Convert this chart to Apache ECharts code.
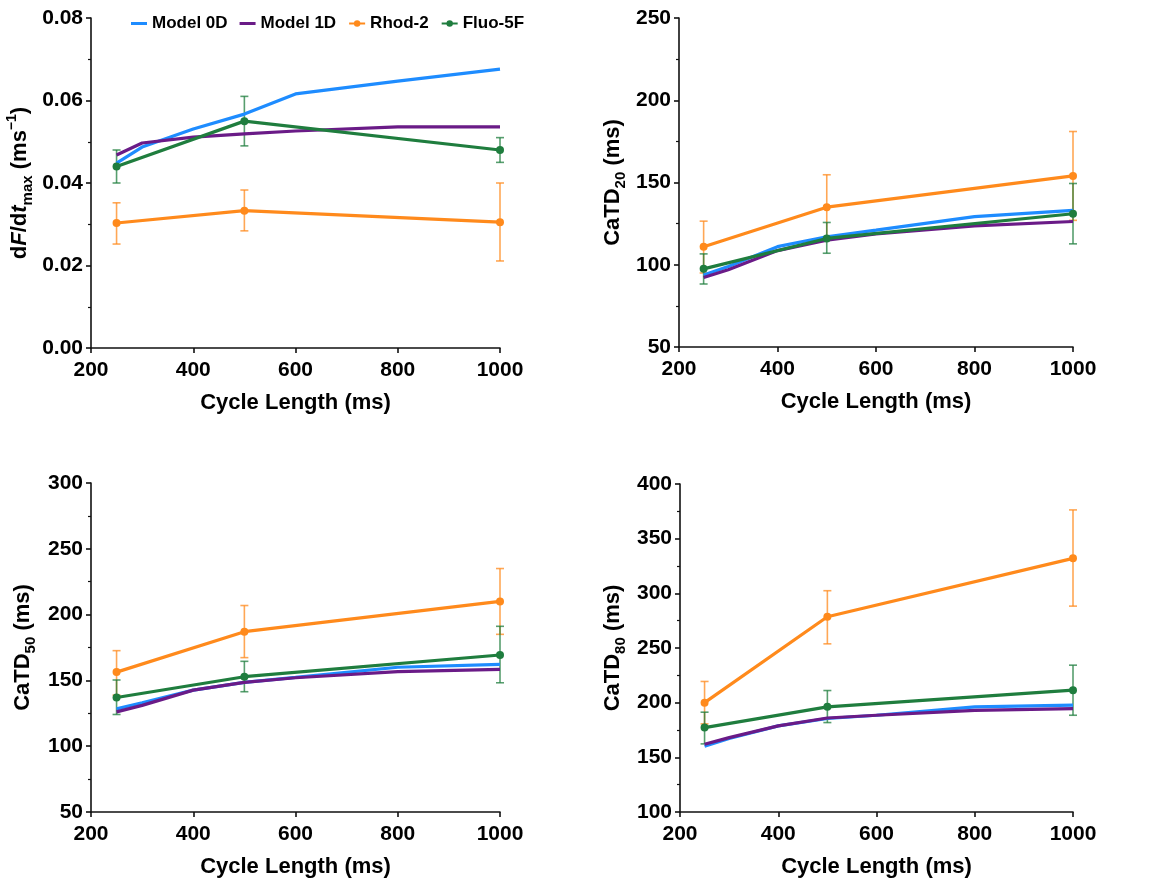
<!DOCTYPE html>
<html>
<head>
<meta charset="utf-8">
<script src="https://cdn.jsdelivr.net/npm/echarts@6/dist/echarts.min.js"></script>
<style>
  html, body { margin: 0; padding: 0; background: #fff; }
  #main { width: 1162px; height: 880px; }
</style>
</head>
<body>
<div id="main"></div>
<script>
// cycle lengths (ms)
const cycleModel = [250, 300, 400, 500, 600, 800, 1000];
const cycleExp = [250, 500, 1000];

// dF/dt max
const dfdt0D = [0.0448, 0.0487, 0.0531, 0.0567, 0.0616, 0.0647, 0.0676];
const dfdt1D = [0.0468, 0.0497, 0.0511, 0.0519, 0.0526, 0.0536, 0.0536];
const dfdtRhod = [0.0303, 0.0333, 0.0305];
const dfdtRhodLo = [0.0252, 0.0284, 0.0211];
const dfdtRhodHi = [0.0352, 0.0383, 0.0400];
const dfdtFluo = [0.0440, 0.0550, 0.0480];
const dfdtFluoLo = [0.0400, 0.0490, 0.0450];
const dfdtFluoHi = [0.0480, 0.0610, 0.0510];

// CaTD20
const td20_0D = [93.8, 99, 111, 117, 121, 129.3, 133];
const td20_1D = [92.2, 97, 108.6, 115, 118.8, 123.6, 126.3];
const td20Rhod = [111, 135, 154];
const td20RhodLo = [95, 115.5, 127];
const td20RhodHi = [126.5, 154.7, 181];
const td20Fluo = [97.5, 116, 131];
const td20FluoLo = [88.3, 107, 112.7];
const td20FluoHi = [106.6, 125.7, 149.4];

// CaTD50
const td50_0D = [128.4, 133, 142.6, 148.5, 152.3, 160, 162.2];
const td50_1D = [126.1, 131, 142.6, 148.5, 152, 156.6, 158.4];
const td50Rhod = [156.3, 187, 210];
const td50RhodLo = [138.8, 167.3, 185];
const td50RhodHi = [172.6, 206.9, 235];
const td50Fluo = [137, 152.8, 169.3];
const td50FluoLo = [124.1, 141.4, 148.2];
const td50FluoHi = [150.3, 164.5, 191.1];

// CaTD80
const td80_0D = [160.1, 167.2, 178.8, 185.5, 188.5, 196.2, 197.7];
const td80_1D = [162, 168, 178.8, 186, 188.5, 193, 194.6];
const td80Rhod = [200, 278.6, 332];
const td80RhodLo = [180.6, 253.8, 288.3];
const td80RhodHi = [219.4, 302.4, 376.3];
const td80Fluo = [177.2, 196.2, 211.4];
const td80FluoLo = [162.3, 181.8, 188.5];
const td80FluoHi = [191.3, 211.1, 234.3];

const xTicks = [200, 400, 600, 800, 1000];

const BLUE = '#1E8CFF';
const PURPLE = '#6A1B87';
const ORANGE = '#FF8A1C';
const GREEN = '#1F7D3E';
const FONT = '"Liberation Sans", Arial, Helvetica, sans-serif';

const pair = (xs, ys) => xs.map((x, i) => [x, ys[i]]);
const bars = (lo, hi) => cycleExp.map((x, i) => [x, lo[i], hi[i]]);

function errorBar(gi, data, color) {
  return {
    type: 'custom',
    xAxisIndex: gi, yAxisIndex: gi,
    z: 1,
    silent: true,
    renderItem: (params, api) => {
      const top = api.coord([api.value(0), api.value(2)]);
      const bot = api.coord([api.value(0), api.value(1)]);
      const w = 4;
      const style = { stroke: color, lineWidth: 1.6 };
      return {
        type: 'group',
        children: [
          { type: 'line', shape: { x1: top[0], y1: top[1], x2: bot[0], y2: bot[1] }, style },
          { type: 'line', shape: { x1: top[0] - w, y1: top[1], x2: top[0] + w, y2: top[1] }, style },
          { type: 'line', shape: { x1: bot[0] - w, y1: bot[1], x2: bot[0] + w, y2: bot[1] }, style }
        ]
      };
    },
    data: data
  };
}

function panelSeries(gi, m0, m1, rh, rhLo, rhHi, fl, flLo, flHi) {
  const base = { type: 'line', xAxisIndex: gi, yAxisIndex: gi, z: 3 };
  return [
    errorBar(gi, bars(rhLo, rhHi), 'rgba(255,138,28,0.75)'),
    errorBar(gi, bars(flLo, flHi), 'rgba(31,125,62,0.75)'),
    Object.assign({}, base, { name: 'Model 0D', data: pair(cycleModel, m0), symbol: 'none', lineStyle: { color: BLUE, width: 3.2 }, itemStyle: { color: BLUE } }),
    Object.assign({}, base, { name: 'Model 1D', data: pair(cycleModel, m1), symbol: 'none', lineStyle: { color: PURPLE, width: 3.2 }, itemStyle: { color: PURPLE } }),
    Object.assign({}, base, { name: 'Rhod-2', data: pair(cycleExp, rh), symbol: 'circle', symbolSize: 8, lineStyle: { color: ORANGE, width: 3.2 }, itemStyle: { color: ORANGE } }),
    Object.assign({}, base, { name: 'Fluo-5F', data: pair(cycleExp, fl), symbol: 'circle', symbolSize: 8, lineStyle: { color: GREEN, width: 3.2 }, itemStyle: { color: GREEN } })
  ];
}

const grids = [
  { left: 91, top: 18, width: 409, height: 330 },
  { left: 679, top: 18, width: 394, height: 329 },
  { left: 91, top: 483, width: 409, height: 329 },
  { left: 680, top: 484, width: 393, height: 328 }
];

const axisLine = { lineStyle: { color: '#111', width: 1.6 } };
const labelStyle = { color: '#000', fontFamily: FONT, fontWeight: 'bold', fontSize: 21 };
const nameStyle = { color: '#000', fontFamily: FONT, fontWeight: 'bold', fontSize: 22 };

const rich = {
  a: { fontFamily: FONT, fontWeight: 'bold', fontSize: 22, color: '#000', lineHeight: 30 },
  i: { fontFamily: FONT, fontWeight: 'bold', fontStyle: 'italic', fontSize: 22, color: '#000', lineHeight: 30 },
  sub: { fontFamily: FONT, fontWeight: 'bold', fontSize: 15, color: '#000', lineHeight: 30, verticalAlign: 'bottom' },
  sup: { fontFamily: FONT, fontWeight: 'bold', fontSize: 14, color: '#000', lineHeight: 30, verticalAlign: 'top' }
};

const yNames = [
  '{a|d}{i|F}{a|/d}{i|t}{sub|max}{a| (ms}{sup|−1}{a|)}',
  '{a|CaTD}{sub|20}{a| (ms)}',
  '{a|CaTD}{sub|50}{a| (ms)}',
  '{a|CaTD}{sub|80}{a| (ms)}'
];
const yRanges = [[0, 0.08, 0.02], [50, 250, 50], [50, 300, 50], [100, 400, 50]];
const yGaps = [56, 51, 53, 52];

const xAxes = grids.map((g, i) => ({
  type: 'value', gridIndex: i, min: xTicks[0], max: xTicks[xTicks.length - 1], interval: 200,
  name: 'Cycle Length (ms)', nameLocation: 'middle', nameGap: 44, nameTextStyle: nameStyle,
  axisLine: axisLine, axisTick: { show: true, length: 5, lineStyle: { color: '#111', width: 1.6 } },
  axisLabel: Object.assign({ margin: 12, formatter: v => String(v) }, labelStyle),
  splitLine: { show: false }
}));

const yAxes = grids.map((g, i) => ({
  type: 'value', gridIndex: i, min: yRanges[i][0], max: yRanges[i][1], interval: yRanges[i][2],
  name: yNames[i], nameLocation: 'middle', nameGap: yGaps[i], nameRotate: 90,
  nameTextStyle: { rich: rich },
  axisLine: Object.assign({ show: true }, axisLine),
  axisTick: { show: true, length: 5, lineStyle: { color: '#111', width: 1.6 } },
  minorTick: { show: true, splitNumber: 2, length: 3, lineStyle: { color: '#111', width: 1.2 } },
  axisLabel: Object.assign({ margin: 8, formatter: i === 0 ? (v => v.toFixed(2)) : (v => String(v)) }, labelStyle),
  splitLine: { show: false }
}));

const lineIcon = 'path://M0,0H16V3H0Z';

const chart = echarts.init(document.getElementById('main'), null, { renderer: 'canvas' });
chart.setOption({
  animation: false,
  backgroundColor: '#fff',
  legend: {
    left: 126, top: 10,
    itemWidth: 16, itemHeight: 8, itemGap: 12,
    textStyle: { fontFamily: FONT, fontWeight: 'bold', fontSize: 17, color: '#000' },
    data: [
      { name: 'Model 0D', icon: lineIcon },
      { name: 'Model 1D', icon: lineIcon },
      'Rhod-2',
      'Fluo-5F'
    ]
  },
  grid: grids,
  xAxis: xAxes,
  yAxis: yAxes,
  series: [].concat(
    panelSeries(0, dfdt0D, dfdt1D, dfdtRhod, dfdtRhodLo, dfdtRhodHi, dfdtFluo, dfdtFluoLo, dfdtFluoHi),
    panelSeries(1, td20_0D, td20_1D, td20Rhod, td20RhodLo, td20RhodHi, td20Fluo, td20FluoLo, td20FluoHi),
    panelSeries(2, td50_0D, td50_1D, td50Rhod, td50RhodLo, td50RhodHi, td50Fluo, td50FluoLo, td50FluoHi),
    panelSeries(3, td80_0D, td80_1D, td80Rhod, td80RhodLo, td80RhodHi, td80Fluo, td80FluoLo, td80FluoHi)
  )
});
</script>
</body>
</html>
